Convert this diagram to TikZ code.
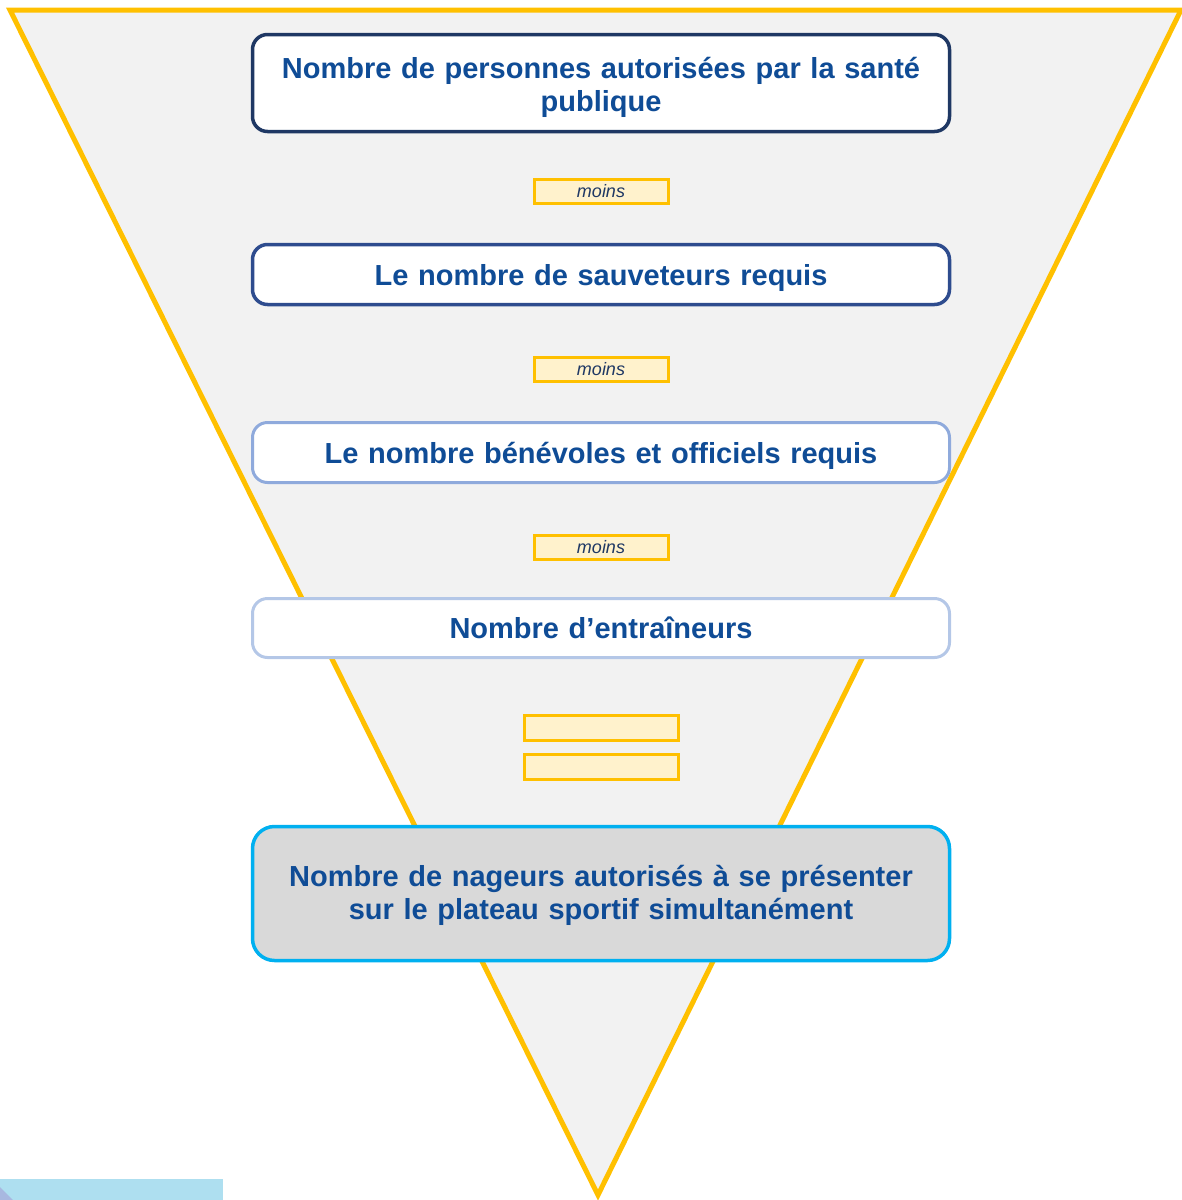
\documentclass[tikz,border=0pt]{standalone}
\usepackage{fontspec}
\setmainfont{Liberation Sans}
\definecolor{gold}{HTML}{FFC000}
\definecolor{pale}{HTML}{F2F2F2}
\definecolor{cream}{HTML}{FFF2CC}
\definecolor{txtblue}{HTML}{0F4C96}
\definecolor{navy}{HTML}{1F3864}
\definecolor{bordA}{HTML}{1F3864}
\definecolor{bordB}{HTML}{2E4C8E}
\definecolor{bordC}{HTML}{8FAADC}
\definecolor{bordD}{HTML}{B4C7E7}
\definecolor{cyanb}{HTML}{00B0F0}
\definecolor{greybox}{HTML}{D9D9D9}
\definecolor{skyrect}{HTML}{AEDFF0}
\definecolor{lavender}{HTML}{A8B8E0}
\tikzset{
  stagebox/.style={draw, rounded corners=15pt, fill=white, minimum width=697pt,
    line width=3.5pt, text width=680pt, align=center, inner sep=0pt, text depth=0pt,
    font=\fontsize{29}{33}\selectfont\bfseries, text=txtblue},
  multiline/.style={text depth={}},
  opbox/.style={draw=gold, fill=cream, line width=3pt, minimum width=134pt,
    minimum height=24pt, inner sep=0pt, text depth=0pt, font=\fontsize{18}{20}\selectfont\itshape, text=navy},
  eqbox/.style={draw=gold, fill=cream, line width=3pt, minimum width=154pt,
    minimum height=25pt, inner sep=0pt}
}
\begin{document}
\begin{tikzpicture}[x=1pt,y=-1pt]
\useasboundingbox (0,0) rectangle (1182,1200);
\clip (0,0) rectangle (1182,1200);
% funnel
\draw[gold, fill=pale, line width=5pt, line join=miter] (10,10) -- (1181,10) -- (598,1195) -- cycle;
% stage boxes
\node[stagebox, multiline, draw=bordA, minimum height=97pt] (b1) at (601,83) {\hyphenpenalty=10000 \rule{0pt}{30pt}Nombre de personnes autorisées par la santé\\publique};
\node[stagebox, draw=bordB, minimum height=60pt] (b2) at (601,274.5) {Le nombre de sauveteurs requis};
\node[stagebox, draw=bordC, minimum height=60pt, line width=3pt] (b3) at (601,452.5) {Le nombre bénévoles et officiels requis};
\node[stagebox, draw=bordD, minimum height=59pt, line width=3pt] (b4) at (601,628) {Nombre d’entraîneurs};
\node[stagebox, multiline, draw=cyanb, fill=greybox, minimum height=134pt, rounded corners=22pt] (b5) at (601,893.5) {\rule{0pt}{25.5pt}Nombre de nageurs autorisés à se présenter\\sur le plateau sportif simultanément};
% operator boxes
\node[opbox] (m1) at (601,191) {moins};
\node[opbox] (m2) at (601,369) {moins};
\node[opbox] (m3) at (601,547) {moins};
\node[eqbox] (e1) at (601,727.5) {};
\node[eqbox] (e2) at (601,766.5) {};
% corner decorations
\fill[skyrect] (0,1179) rectangle (223,1200);
\fill[lavender] (0,1187) -- (13,1200) -- (0,1200) -- cycle;
\end{tikzpicture}
\end{document}
